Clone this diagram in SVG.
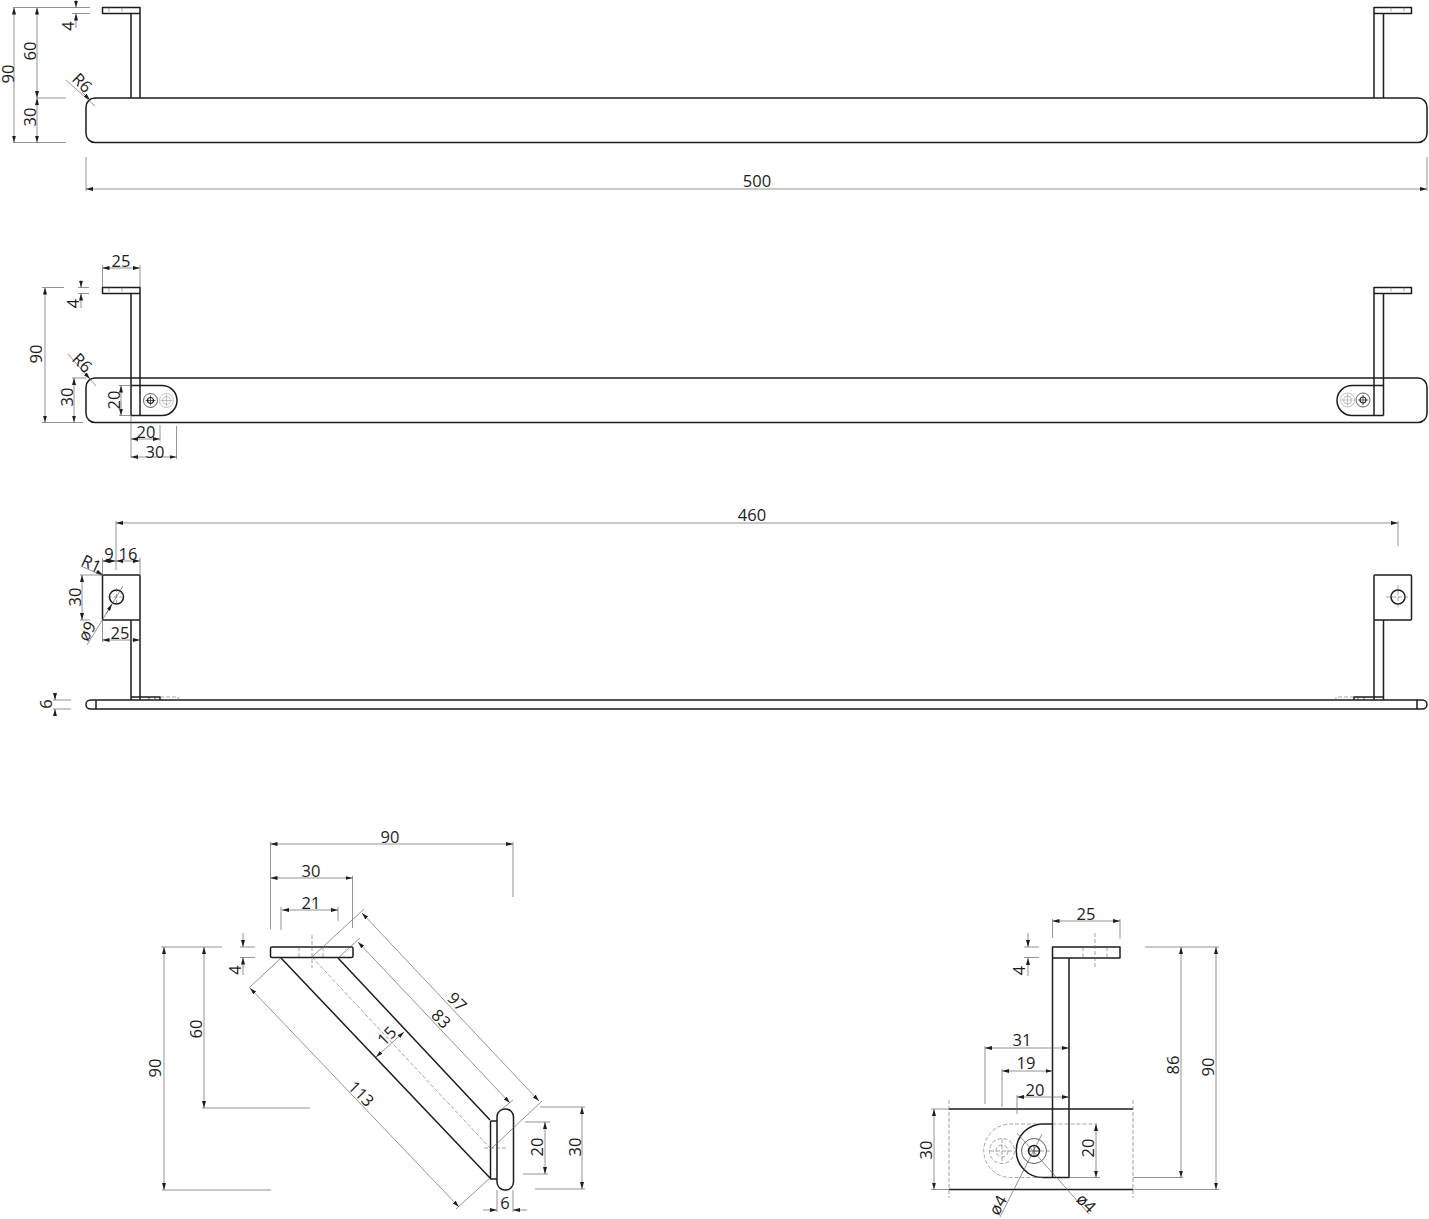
<svg xmlns="http://www.w3.org/2000/svg" xmlns:xlink="http://www.w3.org/1999/xlink" width="1429" height="1219" viewBox="0 0 1429 1219">
<style>
.s{fill:none;stroke:#1d1d1b;stroke-width:1.5;stroke-linejoin:round}
.k{fill:none;stroke:#1d1d1b;stroke-width:.7}
.h{fill:none;stroke:#666;stroke-width:.6;stroke-dasharray:4 2}
.e{fill:none;stroke:#666;stroke-width:.7}
.l{fill:none;stroke:#999;stroke-width:.6}
.d{fill:none;stroke:#666;stroke-width:.7;marker-start:url(#a);marker-end:url(#a)}
.o{fill:none;stroke:#666;stroke-width:.7;marker-end:url(#a)}
text{font-family:"Open Sans","Noto Sans","Liberation Sans",sans-serif;font-size:16.5px;fill:#1d1d1b;text-anchor:middle}
</style>
<defs>
<marker id="a" viewBox="0 0 7 4" refX="7" refY="2" markerWidth="7" markerHeight="4" markerUnits="userSpaceOnUse" orient="auto-start-reverse"><path d="M0 0L7 2L0 4Z" fill="#1d1d1b"/></marker>
<g id="screw"><circle r="7" class="k"/><circle r="3" fill="none" stroke="#1d1d1b" stroke-width="1.2"/><path d="M-5 0H5M0-5V5" class="k"/></g>
<g id="hole"><circle r="7" class="l"/><circle r="4" class="l"/><path d="M-6 0H6M0-6V6" class="l"/></g>
</defs>

<g id="view-top">
<rect class="s" x="86" y="98" width="1341" height="44.5" rx="9"/>
<path class="s" d="M102.5 7.500H140V13.500H102.500ZM131 13.500V98M140 13.500V98"/>
<path class="s" d="M1374 7.500H1411.500V13.500H1374ZM1374 13.500V98M1383.500 13.500V98"/>
<path class="h" d="M109 7.500V13.500M122 7.500V13.500M1391 7.500V13.500M1404 7.500V13.500"/>
</g>

<g id="view-back">
<rect class="s" x="86" y="378" width="1341" height="44.500" rx="9"/>
<path class="s" d="M102.500 287.500H140V293.500H102.500ZM131 293.500V415.500M140 293.500V415.500M131 385.500H162A15 15 0 0 1 162 415.500H131"/>
<path class="s" d="M1374 287.500H1411.500V293.500H1374ZM1374 293.500V415.500M1383.500 293.500V415.500M1383.500 385.500H1352A15 15 0 0 0 1352 415.500H1383.500"/>
<path class="h" d="M109 287.500V293.500M122 287.500V293.500M1391 287.500V293.500M1404 287.500V293.500"/>
<use xlink:href="#screw" href="#screw" x="150.500" y="400.500"/><use xlink:href="#hole" href="#hole" x="166.500" y="400.500"/>
<use xlink:href="#screw" href="#screw" x="1363" y="400"/><use xlink:href="#hole" href="#hole" x="1347.500" y="400"/>
</g>

<g id="view-plan">
<path class="s" d="M90.500 700H1422.500A4.500 4.500 0 0 1 1422.500 709H90.500A4.500 4.500 0 0 1 90.500 700ZM96 700V709M1417 700V709"/>
<rect class="s" x="102.500" y="575" width="37.500" height="45" rx="1"/>
<path class="s" d="M131 620V700M140 620V700M131 697H160V700M1374 620V700M1383.500 620V700M1383.500 697H1354V700"/>
<rect class="s" x="1374" y="575" width="37.500" height="45" rx="1"/>
<circle class="s" cx="116.500" cy="597" r="7"/><circle class="s" cx="1398" cy="597" r="7"/>
<path class="k" d="M149 697V700M155 697V700M1358 697V700M1364 697V700"/>
<path class="h" d="M160 697H178V700M1354 697H1336V700M116.500 588V606M107.500 597H125.500M1398 585V609M1386 597H1410"/>
</g>

<g id="view-side-a">
<rect class="s" x="270.500" y="947" width="82.500" height="10.500" rx="1.500"/>
<path class="s" d="M281 958L490 1178M338 958L490 1120M490.500 1121H497M490.500 1121V1179H497"/>
<rect class="s" x="497" y="1109" width="16.500" height="81" rx="8"/>
<path class="h" d="M299 947V957.500M323 947V957.500M312 935V968M312 957L490 1148M484 1148H508"/>
</g>

<g id="view-side-b">
<path class="s" d="M949 1109H1133M949 1189.500H1133M1052.500 947H1120V958H1052.500ZM1052.500 958V1177.500M1069 958V1177.500H1043A26.500 26.500 0 0 1 1043 1124H1052.500"/>
<circle class="s" cx="1034" cy="1151" r="5.500"/>
<circle class="k" cx="1034" cy="1151" r="12.500"/>
<path class="k" d="M1034 1145V1157M1028 1151H1040"/>
<path class="h" d="M1083 947V958M1107 947V958M1095 933V969M949 1100V1198M1133 1100V1198M1052.500 1124H1097M1043 1124H1010.500A26.500 26.500 0 0 0 1010.500 1177.500H1043M1034 1151H1052M990 1151H1014M1002 1139V1163"/>
<circle class="h" cx="1002" cy="1151" r="12.500"/>
<circle class="h" cx="1002" cy="1151" r="6"/>
</g>

<g id="connectors">
<!-- top view -->
<path class="e" d="M13 7.500H72M13 142.500H66M37 98H66M72 7.500H90M72 13.500H90M66 80L95 106M86 157V191M1427 157V191"/>
<path class="d" d="M14 7.500V142.500"/><path class="d" d="M37 7.500V98"/><path class="d" d="M37 98V142.500"/><path class="d" d="M86 189H1427"/>
<path class="o" d="M76 0V7.500"/><path class="o" d="M76 28V13.500"/><path class="o" d="M82 92L90 100"/>
<!-- back view -->
<path class="e" d="M102.500 265V287M140 265V287M42 287.500H64M42 422.500H83M72 378H86M119 385.500H131M119 415.500H131M78 287.500H89M78 293.500H89M68 354L96 386M131 415V458M160 425V441M176.500 426V459"/>
<path class="d" d="M102.500 268H140"/><path class="d" d="M45 287.500V422.500"/><path class="d" d="M74 378V422.500"/><path class="d" d="M121 385.500V415.500"/><path class="d" d="M131 439H160"/><path class="d" d="M131 457H176.500"/>
<path class="o" d="M81 280V287.500"/><path class="o" d="M81 308V293.500"/><path class="o" d="M82 370L90 379"/>
<!-- plan view -->
<path class="e" d="M116 521V570M1398 521V546M102.500 558V575M140 558V575M80 575H102M80 620H90M81 566L103 576M87 645L123 586M102.500 620V642M53 700H71M53 709H71"/>
<path class="d" d="M116 523H1398"/><path class="d" d="M82 575V620"/><path class="d" d="M102.500 640H140"/>
<path class="d" d="M102.500 561H116"/><path class="d" d="M116 561H140"/>
<path class="o" d="M55 693V700"/><path class="o" d="M55 716V709"/><path class="o" d="M96 571L103 575"/><path class="o" d="M106 614L112 604"/>
<!-- side view a -->
<path class="e" d="M270.500 842V929M513 842V897M352.500 876V928M281 907V930M338 907V921M240 947H255M240 957.500H255M161 947H222M162 1190H271M202 1108H310M312 957L364 909M492 1148L542 1101M338 958L360 938M497 1113L513 1100M281 958L249 988M490 1178L456 1209M497 1190V1212M513 1190V1212M525 1122H550M523 1174H548M540 1107H585M535 1189H585"/>
<path class="d" d="M270.500 844H513"/><path class="d" d="M270.500 878H352.500"/><path class="d" d="M282 910H338"/><path class="d" d="M164 947V1190"/><path class="d" d="M204 947V1108"/><path class="d" d="M362 913L539 1101"/><path class="d" d="M358 942L510 1103"/><path class="d" d="M250 988L459 1207"/><path class="d" d="M376 1057L404 1032"/><path class="d" d="M545 1122V1174"/><path class="d" d="M582 1107V1189"/>
<path class="o" d="M243 933V947"/><path class="o" d="M243 975V957.500"/><path class="o" d="M483 1210H497"/><path class="o" d="M527 1210H513"/>
<!-- side view b -->
<path class="e" d="M1052.500 919V938M1120 919V939M1024 947H1039M1024 957.500H1039M1145 947H1219M1133 1177.500H1183M1133 1189.500H1219M985 1046V1104M1002 1069V1107M1017 1095V1114M931 1109H949M931 1189.500H949M1069 1177.500H1100M1000 1217L1042 1134M1017 1133L1089 1214"/>
<path class="d" d="M1052.500 921H1120"/><path class="d" d="M1181 947V1177.500"/><path class="d" d="M1216 947V1189.500"/><path class="d" d="M985 1048H1069"/><path class="d" d="M1002 1071H1052.500"/><path class="d" d="M1017 1097H1069"/><path class="d" d="M934 1109V1189.500"/><path class="d" d="M1096 1124V1177.500"/>
<path class="o" d="M1028 933V947"/><path class="o" d="M1028 976V958"/>
</g>

<g id="labels">
<text x="757" y="187">500</text>
<text transform="translate(13.500,74) rotate(-90)">90</text>
<text transform="translate(36,51) rotate(-90)">60</text>
<text transform="translate(36,117) rotate(-90)">30</text>
<text transform="translate(73.500,26) rotate(-90)">4</text>
<text transform="translate(78,87) rotate(45)">R6</text>
<text x="121" y="267">25</text>
<text transform="translate(42,354) rotate(-90)">90</text>
<text transform="translate(73,397) rotate(-90)">30</text>
<text transform="translate(119.500,400) rotate(-90)">20</text>
<text transform="translate(78.500,303.500) rotate(-90)">4</text>
<text transform="translate(78,367) rotate(45)">R6</text>
<text x="146" y="438">20</text>
<text x="155" y="458">30</text>
<text x="752" y="521">460</text>
<text x="109" y="560">9</text>
<text x="128" y="560">16</text>
<text transform="translate(89,569) rotate(25)">R1</text>
<text transform="translate(81,597) rotate(-90)">30</text>
<text transform="translate(92,634) rotate(-60)">ø9</text>
<text x="120" y="639">25</text>
<text transform="translate(52,704) rotate(-90)">6</text>
<text x="390" y="843">90</text>
<text x="311" y="877">30</text>
<text x="311" y="909">21</text>
<text transform="translate(241,970) rotate(-90)">4</text>
<text transform="translate(161,1068) rotate(-90)">90</text>
<text transform="translate(202,1029) rotate(-90)">60</text>
<text transform="translate(453,1006) rotate(45)">97</text>
<text transform="translate(437,1023) rotate(45)">83</text>
<text transform="translate(357,1098) rotate(45)">113</text>
<text transform="translate(391,1040) rotate(-45)">15</text>
<text x="505" y="1209">6</text>
<text transform="translate(543,1147) rotate(-90)">20</text>
<text transform="translate(581,1147) rotate(-90)">30</text>
<text x="1086" y="920">25</text>
<text transform="translate(1025,970.500) rotate(-90)">4</text>
<text transform="translate(1179,1065) rotate(-90)">86</text>
<text transform="translate(1214,1067) rotate(-90)">90</text>
<text x="1022" y="1046">31</text>
<text x="1026" y="1069">19</text>
<text x="1035" y="1096">20</text>
<text transform="translate(932,1150) rotate(-90)">30</text>
<text transform="translate(1094,1148) rotate(-90)">20</text>
<text transform="translate(1003,1208) rotate(-60)">ø4</text>
<text transform="translate(1082,1207) rotate(45)">ø4</text>
</g>
</svg>
